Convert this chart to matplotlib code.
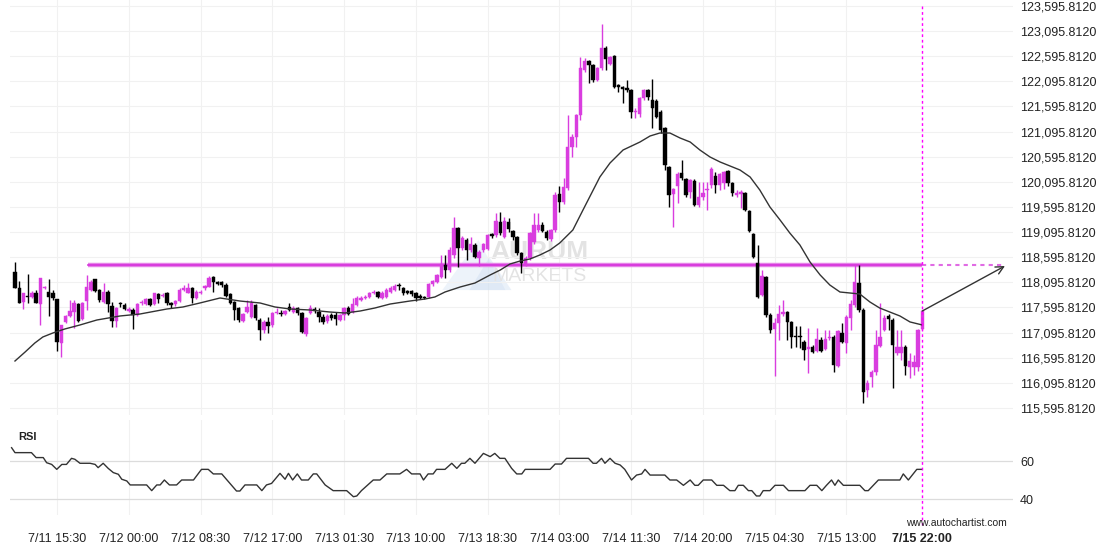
import numpy as np
from matplotlib import pyplot as plt
from matplotlib.lines import Line2D
from matplotlib.patches import Polygon

plt.rcParams['font.family'] = ['Liberation Sans', 'DejaVu Sans']

# 30 minute candles, index 0 = 7/11 10:30, index 215 = 7/15 22:00
opens = [118302, 117984, 117705, 117825, 117805, 117884, 117665, 117984, 117904, 117884,
         117765, 116889, 117308, 117427, 117506, 117665, 117367, 117725, 117944, 118163,
         117944, 117705, 117904, 117626, 117328, 117685, 117646, 117526, 117546, 117447,
         117685, 117665, 117765, 117665, 117864, 117825, 117884, 117685, 117665, 117725,
         117944, 117884, 117984, 117785, 117884, 117984, 118004, 118203, 118103, 118103,
         118043, 117864, 117705, 117586, 117328, 117506, 117407, 117646, 117347, 117148,
         117308, 117248, 117486, 117486, 117466, 117606, 117506, 117586, 117486, 117069,
         117486, 117566, 117506, 117407, 117328, 117447, 117447, 117347, 117447, 117586,
         117506, 117646, 117745, 117785, 117805, 117884, 117904, 117785, 117805, 117904,
         117944, 118043, 117984, 117924, 117924, 117884, 117825, 117805, 117805, 118063,
         118103, 118203, 118441, 118342, 118641, 119178, 118780, 118939, 118740, 118840,
         118581, 118740, 118760, 119059, 119039, 119297, 118999, 119297, 119118, 118999,
         118680, 118461, 118581, 118899, 119138, 119238, 119098, 118959, 119138, 119854,
         119695, 119974, 120790, 120989, 121427, 122322, 122501, 122422, 122123, 122362,
         122760, 122442, 122601, 122023, 121984, 121964, 121924, 121486, 121446, 121765,
         121924, 121725, 121705, 121486, 121168, 120392, 119854, 120014, 120272, 120153,
         119894, 120113, 119636, 119795, 119934, 120034, 120213, 120034, 120073, 120312,
         120073, 119835, 119854, 119874, 119516, 119059, 118481, 117845, 118203, 117447,
         117168, 117288, 117466, 117506, 117308, 117029, 117029, 116909, 116770, 116810,
         116730, 116949, 116770, 116989, 117009, 116432, 117089, 116889, 117387, 117646,
         118083, 117546, 115954, 116213, 116312, 116830, 117148, 117427, 117347, 116690,
         116690, 116810, 116412, 116412, 116412, 117168]

highs = [118501, 118123, 117884, 118262, 117924, 117944, 118183, 118024, 118163, 117944,
         117765, 117248, 117447, 117745, 117745, 117685, 117705, 118243, 118143, 118163,
         117964, 118083, 117944, 117705, 117606, 117705, 117685, 117606, 117586, 117685,
         117745, 117785, 117785, 117884, 117884, 117884, 117904, 117705, 117745, 117984,
         118043, 118083, 118004, 117944, 117944, 118043, 118223, 118223, 118123, 118123,
         118083, 117884, 117725, 117606, 117486, 117745, 117745, 117665, 117387, 117347,
         117407, 117506, 117586, 117546, 117546, 117685, 117626, 117606, 117506, 117407,
         117646, 117606, 117586, 117466, 117466, 117486, 117506, 117466, 117606, 117626,
         117785, 117825, 117825, 117845, 117904, 117944, 117924, 117924, 117984, 118024,
         118063, 118083, 118004, 117944, 117944, 117904, 117864, 117825, 118083, 118143,
         118262, 118641, 118641, 118800, 119397, 119198, 119019, 118979, 118999, 118880,
         118740, 118880, 119059, 119079, 119476, 119496, 119397, 119377, 119138, 119019,
         118700, 118620, 119098, 119476, 119476, 119297, 119138, 119158, 119894, 120014,
         120173, 121427, 121048, 121446, 122581, 122561, 122521, 122442, 122382, 123237,
         122800, 122601, 122621, 122043, 122004, 122123, 121944, 121566, 121785, 121944,
         121944, 122143, 121745, 121526, 121188, 120412, 119974, 120292, 120531, 120173,
         120153, 120153, 120093, 120093, 120093, 120392, 120292, 120272, 120312, 120332,
         120093, 119934, 119934, 119894, 119536, 119079, 118840, 118342, 118223, 117486,
         117387, 117646, 117745, 117526, 117328, 117228, 117228, 116949, 117188, 116849,
         117188, 117009, 117148, 117148, 117049, 117148, 117288, 117447, 117745, 118441,
         118441, 117586, 116153, 116352, 117148, 117685, 117447, 117466, 117387, 117148,
         117148, 116849, 116690, 116651, 117168, 117546]

lows = [117984, 117685, 117566, 117685, 117785, 117685, 117248, 117964, 117427, 117745,
        116730, 116611, 117288, 117407, 117188, 117308, 117347, 117546, 117924, 117904,
        117705, 117685, 117506, 117208, 117208, 117606, 117546, 117506, 117168, 117427,
        117646, 117646, 117626, 117646, 117685, 117805, 117646, 117586, 117626, 117705,
        117924, 117884, 117685, 117765, 117864, 117944, 118004, 117904, 118043, 118004,
        117805, 117665, 117347, 117308, 117308, 117486, 117387, 117347, 116949, 117089,
        117089, 117208, 117466, 117427, 117447, 117526, 117486, 117447, 117089, 117029,
        117466, 117486, 117308, 117268, 117288, 117347, 117248, 117328, 117347, 117447,
        117486, 117626, 117725, 117765, 117785, 117864, 117785, 117765, 117785, 117884,
        117924, 117944, 117845, 117864, 117825, 117725, 117765, 117765, 117785, 118024,
        118083, 118183, 118183, 118302, 118581, 118402, 118740, 118541, 118700, 118581,
        118422, 118700, 118740, 118979, 118999, 119039, 118979, 119098, 118939, 118641,
        118282, 118422, 118541, 118860, 119098, 119098, 118939, 118919, 119098, 119496,
        119655, 119934, 120591, 120790, 121327, 122282, 122063, 122083, 122103, 122322,
        122322, 122422, 121964, 121884, 121665, 121884, 121367, 121367, 121387, 121725,
        121725, 121168, 121367, 121068, 120332, 119596, 119198, 119675, 120133, 119795,
        119775, 119616, 119596, 119735, 119536, 119974, 119874, 119934, 119954, 120014,
        119815, 119795, 119576, 119516, 119098, 118581, 117785, 117825, 117407, 117089,
        116233, 116949, 117427, 116949, 116790, 116810, 116790, 116551, 116292, 116690,
        116710, 116710, 116750, 116949, 116312, 116412, 116889, 116690, 117148, 117606,
        117506, 115695, 115815, 116014, 116253, 116810, 117128, 117148, 115994, 116651,
        116551, 116253, 116193, 116253, 116332, 117148]

closes = [117984, 117685, 117884, 117805, 117884, 117685, 118183, 118004, 117805, 117785,
          116909, 117248, 117427, 117526, 117685, 117328, 117685, 118004, 118103, 117924,
          117745, 117904, 117665, 117328, 117586, 117665, 117566, 117566, 117447, 117665,
          117705, 117765, 117646, 117884, 117765, 117845, 117685, 117646, 117725, 117944,
          117984, 117984, 117785, 117904, 117904, 118024, 118183, 118103, 118063, 118043,
          117825, 117685, 117546, 117347, 117466, 117606, 117685, 117387, 117148, 117308,
          117228, 117486, 117506, 117466, 117526, 117546, 117586, 117486, 117108, 117387,
          117586, 117526, 117407, 117308, 117427, 117387, 117367, 117447, 117586, 117466,
          117665, 117785, 117785, 117805, 117884, 117904, 117805, 117884, 117944, 117984,
          118024, 118024, 117884, 117884, 117864, 117785, 117785, 117785, 118063, 118123,
          118243, 118461, 118342, 118740, 119178, 118780, 118979, 118740, 118860, 118601,
          118700, 118860, 119039, 119019, 119317, 119079, 119317, 119158, 118999, 118680,
          118481, 118581, 119079, 119238, 119238, 119118, 118979, 119138, 119835, 119695,
          119994, 120790, 120989, 121427, 122362, 122501, 122422, 122123, 122362, 122760,
          122541, 122581, 121984, 121984, 121944, 121924, 121486, 121506, 121765, 121924,
          121785, 121566, 121387, 121128, 120432, 119835, 119954, 120253, 120173, 119835,
          120133, 119636, 119795, 119874, 119954, 120352, 120034, 120253, 120292, 120073,
          119874, 119874, 119894, 119536, 119118, 118601, 117805, 118223, 117447, 117148,
          117288, 117466, 117506, 117308, 117009, 117009, 117009, 116750, 116810, 116710,
          116969, 116730, 116969, 117009, 116452, 117128, 116909, 117407, 117665, 118103,
          117546, 115914, 116093, 116312, 116849, 117009, 117387, 117367, 116849, 116810,
          116810, 116432, 116531, 116511, 117148, 117526]

# moving average, read at a handful of candle positions
ma_t = [0, 2.4, 4.7, 6.6, 9.0, 11.8, 15.4, 19.4, 24.9, 29.6, 36.0, 39.8, 43.8, 48.6,
        53.3, 58.1, 61.6, 65.2, 69.9, 74.6, 78.2, 81.8, 85.3, 88.9, 93.6, 97.2, 99.5,
        101.9, 105.5, 109.0, 112.6, 115.0, 117.3, 119.7, 122.0, 124.4, 126.8, 129.1,
        132.2, 134.6, 138.6, 141.0, 144.1, 148.1, 150.5, 152.8, 155.2, 157.6, 160.0,
        162.3, 164.7, 167.1, 171.8, 174.2, 176.5, 178.9, 181.3, 183.6, 186.0, 188.4,
        190.8, 193.1, 195.5, 197.9, 200.2, 202.6, 204.9, 207.3, 209.7, 212.1, 215.0]
ma_val = [116531, 116710, 116889, 117009, 117089, 117168, 117248, 117347, 117427, 117466,
          117566, 117606, 117685, 117785, 117725, 117685, 117606, 117566, 117546, 117506,
          117486, 117526, 117586, 117665, 117725, 117765, 117805, 117904, 118004, 118083,
          118243, 118342, 118461, 118521, 118561, 118641, 118740, 118880, 119138, 119536,
          120193, 120471, 120730, 120889, 121009, 121068, 121068, 120969, 120889, 120730,
          120591, 120491, 120332, 120193, 119934, 119596, 119337, 119079, 118840, 118501,
          118243, 118043, 117904, 117884, 117864, 117705, 117586, 117506, 117427, 117308,
          117248]

rsi_t = [-0.8, 0, 3.9, 5.0, 6.7, 7.5, 8.7, 9.9, 11.1, 12.2, 13.4, 14.2, 15.4, 17.8, 19.0,
         19.7, 20.9, 22.1, 23.3, 24.5, 25.3, 26.5, 27.3, 31.2, 32.4, 33.6, 34.4, 35.4, 36.6,
         38.3, 39.5, 42.3, 44.2, 45.8, 47.0, 49.0, 50.6, 52.5, 53.3, 54.5, 57.3, 58.5, 59.6,
         60.8, 62.8, 64.0, 64.8, 65.8, 66.9, 67.9, 69.5, 70.7, 71.5, 73.5, 75.4, 78.6, 80.2,
         81.0, 82.1, 84.9, 86.5, 88.1, 91.2, 92.8, 94.0, 96.0, 96.8, 97.9, 99.1, 99.9, 101.9,
         103.5, 104.7, 105.8, 106.6, 107.8, 109.0, 111.0,
         112.6, 113.7, 114.9, 116.1, 117.7, 118.9, 120.1, 120.9, 126.8, 128.0, 129.5, 130.7,
         135.9, 137.0, 137.8, 139.0, 139.8, 141.0, 142.2, 143.4, 144.5, 146.1, 147.3, 148.5,
         149.3, 150.5, 154.0, 155.2, 156.8, 158.4, 160.0, 161.1, 161.9, 163.1, 165.1, 166.3,
         167.9, 169.4, 170.6, 171.4, 172.6, 173.8, 174.6, 175.7, 176.5, 177.3, 178.9, 180.1,
         182.1, 183.3, 187.2, 188.4, 190.0, 191.2, 192.3, 193.5, 194.3, 195.1, 196.3, 200.2,
         201.4, 202.2, 204.6, 209.7, 210.5, 211.7, 213.7, 215.0]
rsi_val = [67.0, 64.4, 64.4, 61.8, 61.8, 59.1, 58.2, 55.6, 58.2, 58.2, 61.4, 60.9, 58.8, 58.8,
           58.2, 56.5, 58.8, 56.1, 53.9, 53.0, 50.4, 49.5, 47.4, 47.4, 44.4, 47.4, 47.4, 50.0,
           47.4, 47.4, 50.0, 50.0, 55.6, 55.6, 53.2, 53.2, 49.1, 44.2, 44.2, 47.4, 47.4, 44.4,
           47.4, 48.2, 53.5, 50.4, 53.5, 50.0, 53.2, 50.0, 50.0, 53.2, 53.2, 47.4, 44.4, 44.4,
           41.2, 41.6, 44.4, 50.0, 50.0, 53.2, 53.2, 55.6, 53.2, 53.2, 50.0, 53.2, 53.2, 55.6,
           55.6, 58.8, 56.1, 58.8, 58.8, 61.4, 58.8, 64.0,
           62.3, 64.0, 61.4, 61.4, 56.1, 53.2, 53.2, 55.6, 55.6, 58.4, 58.4, 61.4, 61.4, 58.8,
           58.8, 61.4, 58.8, 61.4, 58.8, 57.9, 55.6, 50.0, 52.6, 53.2, 55.6, 52.6, 52.6, 50.0,
           50.0, 47.2, 50.0, 47.2, 47.2, 50.0, 50.0, 47.2, 47.2, 44.4, 44.4, 47.2, 47.2, 44.4,
           44.4, 41.6, 41.6, 44.4, 44.4, 47.2, 47.2, 44.4, 44.4, 47.2, 47.2, 44.4, 47.2, 50.0,
           47.2, 50.0, 47.2, 47.2, 44.4, 44.4, 50.0, 50.0, 53.2, 50.0, 55.6, 55.6]

# breakout level and forecast arrow
level = 118440
level_start = 17.3
arrow_end = (234.6, 118422)

tick_pos = [10, 27, 44, 61, 78, 95, 112, 129, 146, 163, 180, 197]
tick_labels = ['7/11 15:30', '7/12 00:00', '7/12 08:30', '7/12 17:00', '7/13 01:30',
               '7/13 10:00', '7/13 18:30', '7/14 03:00', '7/14 11:30', '7/14 20:00',
               '7/15 04:30', '7/15 13:00']
last_pos = 215
last_label = '7/15 22:00'

price_ticks = [115595.812 + 500 * k for k in range(17)]

MAG = '#d93ddf'
TXT = '#222222'

fig = plt.figure(figsize=(11.1, 5.5), dpi=100)
W, H = 1110.0, 550.0
ax = fig.add_axes([10 / W, 1 - 415 / H, 1003 / W, 415 / H])
ax2 = fig.add_axes([10 / W, 1 - 515 / H, 1003 / W, 95 / H], sharex=ax)

o = np.array(opens, float)
hi = np.array(highs, float)
lo = np.array(lows, float)
c = np.array(closes, float)
x = np.arange(len(o))
cols = np.where(c >= o, MAG, 'black')

ax.vlines(x, lo, hi, colors=cols, lw=1.0, zorder=3)
ax.bar(x, np.maximum(np.abs(c - o), 15), bottom=np.minimum(o, c), width=0.8,
       color=cols, edgecolor=cols, linewidth=0.3, zorder=4)
ax.plot(ma_t, ma_val, color='#333333', lw=1.0, zorder=5)

# level line: solid up to the last candle, dashed after it
ax.plot([level_start, last_pos], [level, level], color='#e583e8', lw=3.2, zorder=2,
        solid_capstyle='butt')
ax.plot([level_start, last_pos], [level, level], color='#d62fdb', lw=1.2, zorder=2)
ax.plot([last_pos, arrow_end[0]], [level, level], color='#e06be4', lw=1.5,
        ls=(0, (2, 2)), zorder=2)

ax.annotate('', xy=arrow_end, xytext=(last_pos, closes[-1]),
            arrowprops=dict(arrowstyle='->', color='#333333', lw=1.0,
                            shrinkA=0, shrinkB=0, mutation_scale=14), zorder=6)

# watermark
ax.add_patch(Polygon([[0.431, 0.301], [0.467, 0.422], [0.494, 0.301]], closed=True,
                     transform=ax.transAxes, color='#d9e6f5', alpha=0.45, lw=0, zorder=1))
ax.add_patch(Polygon([[0.458, 0.301], [0.478, 0.38], [0.50, 0.301]], closed=True,
                     transform=ax.transAxes, color='#c5d8f0', alpha=0.35, lw=0, zorder=1))
ax.text(0.528, 0.393, 'AURUM', transform=ax.transAxes, ha='center', va='center',
        fontsize=19, fontweight='bold', color='#e3e3e3', zorder=1)
ax.text(0.528, 0.333, 'MARKETS', transform=ax.transAxes, ha='center', va='center',
        fontsize=14, color='#e3e3e3', zorder=1)

xmin, xmax = -1.18, 236.5
ax.set_xlim(xmin, xmax)
ax.set_ylim(123715 - 19.9 * 415, 123715)
ax.set_yticks(price_ticks)
ax.set_yticklabels(['{:,.4f}'.format(p) for p in price_ticks])
ax.yaxis.tick_right()
ax.tick_params(axis='y', length=0, pad=5, labelsize=9, labelcolor=TXT)
ax.tick_params(axis='x', length=0, labelbottom=False)
ax.grid(axis='y', color='#f1f1f1', lw=0.8, zorder=0)
for t in tick_pos:
    ax.axvline(t, color='#f1f1f1', lw=0.8, zorder=0)
    ax2.axvline(t, color='#f1f1f1', lw=0.8, zorder=0)

# RSI panel
ax2.plot(rsi_t, rsi_val, color='#333333', lw=1.0)
ax2.set_ylim(60 - 54 / 1.9, 60 + 41 / 1.9)
ax2.set_yticks([40, 60])
ax2.yaxis.tick_right()
ax2.tick_params(axis='y', length=0, pad=5, labelsize=9, labelcolor=TXT)
ax2.grid(axis='y', color='#dcdcdc', lw=0.9)
ax2.text(8 / 1003, 1 - 17 / 95, 'RSI', transform=ax2.transAxes, fontsize=8,
         fontweight='bold', color=TXT, va='center')
ax2.set_xticks(tick_pos + [last_pos])
ax2.set_xticklabels(tick_labels + [last_label])
ax2.tick_params(axis='x', length=0, pad=13, labelsize=9, labelcolor=TXT)
ax2.get_xticklabels()[-1].set_fontweight('bold')

for a in (ax, ax2):
    for s in a.spines.values():
        s.set_visible(False)
    a.set_facecolor('none')

# dashed marker of the last candle through both panels
xf = ax.transData.transform((last_pos, level))[0] / fig.bbox.width
fig.add_artist(Line2D([xf, xf], [1 - 6 / H, 1 - 525 / H], transform=fig.transFigure,
                      color='#ff00ff', lw=1.0, ls=(0, (2, 2))))

fig.text(956 / W, 1 - 523 / H, 'www.autochartist.com', ha='center', va='center',
         fontsize=7.5, color=TXT)

fig.savefig('out.png', dpi=100)
